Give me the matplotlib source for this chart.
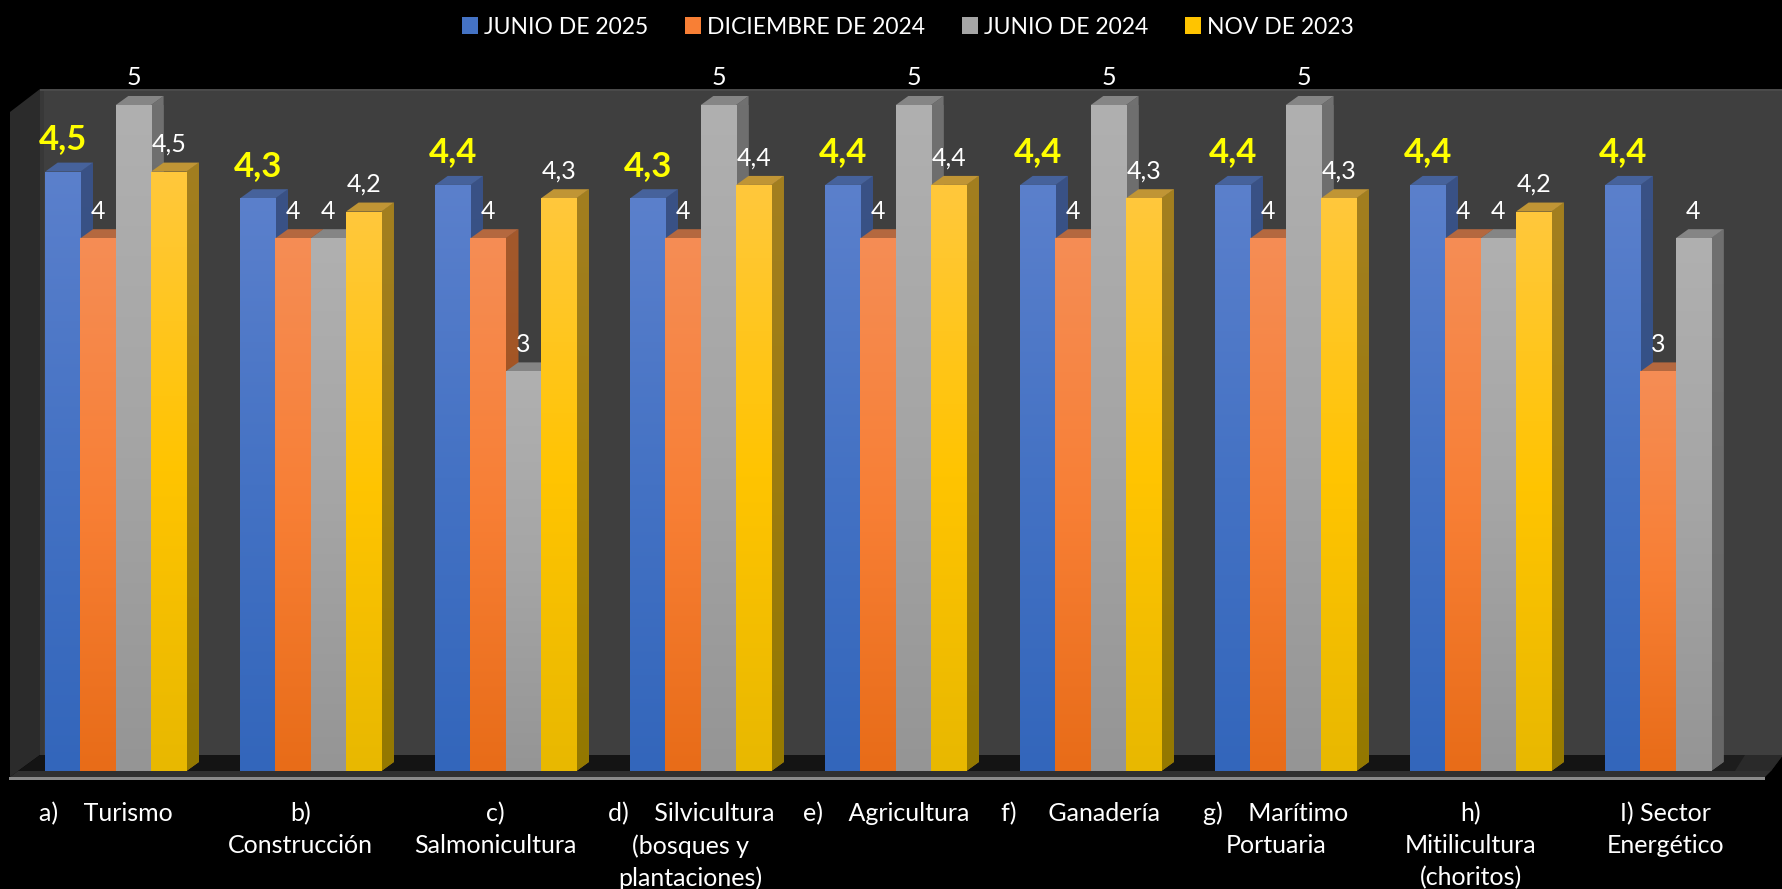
#!/usr/bin/env python3
"""Sector scores per survey round, drawn as fake-3D columns on a dark stage."""
import numpy as np
import matplotlib
matplotlib.use("Agg")
import matplotlib.pyplot as plt
from matplotlib.colors import LinearSegmentedColormap
from matplotlib.patches import Patch, Polygon
from matplotlib.transforms import Affine2D

W, H = 1783, 889

CATEGORIES = [
    "a)    Turismo",
    "b)\nConstrucción",
    "c)\nSalmonicultura",
    "d)    Silvicultura\n(bosques y\nplantaciones)",
    "e)    Agricultura",
    "f)     Ganadería",
    "g)    Marítimo\nPortuaria",
    "h)\nMitilicultura\n(choritos)",
    "I) Sector\nEnergético",
]
SERIES = ["JUNIO DE 2025", "DICIEMBRE DE 2024", "JUNIO DE 2024", "NOV DE 2023"]
JUNIO_2025 = [4.5, 4.3, 4.4, 4.3, 4.4, 4.4, 4.4, 4.4, 4.4]
DICIEMBRE_2024 = [4, 4, 4, 4, 4, 4, 4, 4, 3]
JUNIO_2024 = [5, 4, 3, 5, 5, 5, 5, 4, 4]
NOV_2023 = [4.5, 4.2, 4.3, 4.4, 4.4, 4.3, 4.3, 4.2, None]
VALUES = [JUNIO_2025, DICIEMBRE_2024, JUNIO_2024, NOV_2023]

# top / middle / bottom of the front faces, then top and bottom of the side faces
FRONT = [
    ("#5b80cc", "#4472c4", "#3366bb"),
    ("#f58d55", "#f87f35", "#e86c18"),
    ("#b0b0b0", "#a5a5a5", "#959595"),
    ("#ffc83c", "#ffc400", "#e8b800"),
]
SIDE = [
    ("#3a5285", "#2c4f8c"),
    ("#a4592c", "#a04c10"),
    ("#707070", "#666666"),
    ("#a37f20", "#947800"),
]
TOP = ["#46629b", "#b4683f", "#858585", "#c09535"]

PITCH = 195.0          # px between groups
UNIT = 133.2           # px per score point
BASE_PX = 771.0        # y pixel of score 0
FIRST_CENTER_PX = 115.8
BAR_W = 35.3 / PITCH
DX, DY = 12.5 / PITCH, 9.0 / UNIT

plt.rcParams["font.family"] = ["Lato", "DejaVu Sans"]
fig = plt.figure(figsize=(W / 100, H / 100), dpi=100, facecolor="black")
ax = fig.add_axes([0, (H - BASE_PX) / H, 1, 5 * UNIT / H])
ax.patch.set_visible(False)
for spine in ax.spines.values():
    spine.set_visible(False)

xlim = (-FIRST_CENTER_PX / PITCH, (W - FIRST_CENTER_PX) / PITCH)

# stage is laid out in image pixels, top-left origin
px = Affine2D().scale(1, -1).translate(0, H)


def stage(points, color, z=0.5):
    ax.add_patch(Polygon(points, closed=True, facecolor=color, edgecolor="none",
                         transform=px, clip_on=False, zorder=z))


def shade(patch, colors, extent, z):
    cmap = LinearSegmentedColormap.from_list("g", colors)
    im = ax.imshow(np.linspace(0, 1, 256).reshape(-1, 1), cmap=cmap, aspect="auto",
                   extent=extent, origin="upper", zorder=z, clip_on=True)
    im.set_clip_path(patch)


stage([(40, 89), (W, 89), (W, 755), (40, 755)], "#3f3f3f", 0.2)
stage([(40, 89), (W, 89), (W, 91), (40, 91)], "#4a4a4a", 0.3)
stage([(10, 112), (40, 89), (40, 755), (10, 777)], "#2b2b2b", 0.3)
stage([(40, 91), (44, 91), (44, 755), (40, 755)], "#383838", 0.3)
stage([(18, 771), (40, 755), (W, 755), (1771, 771)], "#141414", 0.3)
stage([(1700, 755), (W, 755), (1771, 771), (1690, 771)], "#1d1d1d", 0.35)
stage([(1745, 755), (W, 755), (1771, 771), (1735, 771)], "#2a2a2a", 0.36)
stage([(10, 777), (18, 771), (1771, 771), (1765, 777)], "#303030", 0.4)
stage([(9, 777), (1765, 777), (1765, 780), (9, 780)], "#8a8a8a", 0.5)

x = np.arange(len(CATEGORIES))
for s, (name, vals) in enumerate(zip(SERIES, VALUES)):
    z = 3 + s * 3
    keep = [i for i, v in enumerate(vals) if v is not None]
    heights = [vals[i] for i in keep]
    lefts = x[keep] + (s - 2) * BAR_W
    for left, v in zip(lefts, heights):
        right = left + BAR_W
        side = Polygon([(right, 0), (right + DX, DY), (right + DX, v + DY), (right, v)],
                       closed=True, facecolor=SIDE[s][0], edgecolor="none",
                       clip_on=False, zorder=z)
        ax.add_patch(side)
        shade(side, SIDE[s], (right, right + DX, 0, v + DY), z + 0.5)
        ax.add_patch(Polygon([(left, v), (right, v), (right + DX, v + DY), (left + DX, v + DY)],
                             closed=True, facecolor=TOP[s], edgecolor="none",
                             clip_on=False, zorder=z + 0.6))
    bars = ax.bar(lefts, heights, width=BAR_W, align="edge", color=FRONT[s][1],
                  linewidth=0, zorder=z + 1, clip_on=False)
    for rect, v in zip(bars, heights):
        shade(rect, FRONT[s], (rect.get_x(), rect.get_x() + BAR_W, 0, v), z + 1.5)
    for rect, v in zip(bars, heights):
        text = f"{v:g}".replace(".", ",")
        cx = rect.get_x() + BAR_W / 2
        if s == 0:
            ax.annotate(text, (cx, v), xytext=(0, 23.5), textcoords="offset points",
                        ha="center", va="center", color="#ffff00", fontsize=25,
                        fontweight="bold", zorder=40, annotation_clip=False)
        else:
            ax.annotate(text, (cx, v), xytext=(0, 19.5), textcoords="offset points",
                        ha="center", va="center", color="white", fontsize=18,
                        zorder=40, annotation_clip=False)

ax.set_xlim(*xlim)
ax.set_ylim(0, 5)
ax.set_yticks([])
ax.set_xticks(x - 10 / PITCH, CATEGORIES, color="white", fontsize=18, linespacing=1.47)
ax.tick_params(axis="x", length=0, pad=22)

handles = [Patch(facecolor=FRONT[i][1], edgecolor="none", label=SERIES[i]) for i in range(4)]
leg = fig.legend(handles=handles, loc="center", bbox_to_anchor=(908 / W, 1 - 27 / H), ncol=4,
                 frameon=False, fontsize=16.5, labelcolor="white", handlelength=0.7,
                 handleheight=0.7, handletextpad=0.25, columnspacing=1.62)

fig.savefig("out.png", dpi=100, facecolor="black")
